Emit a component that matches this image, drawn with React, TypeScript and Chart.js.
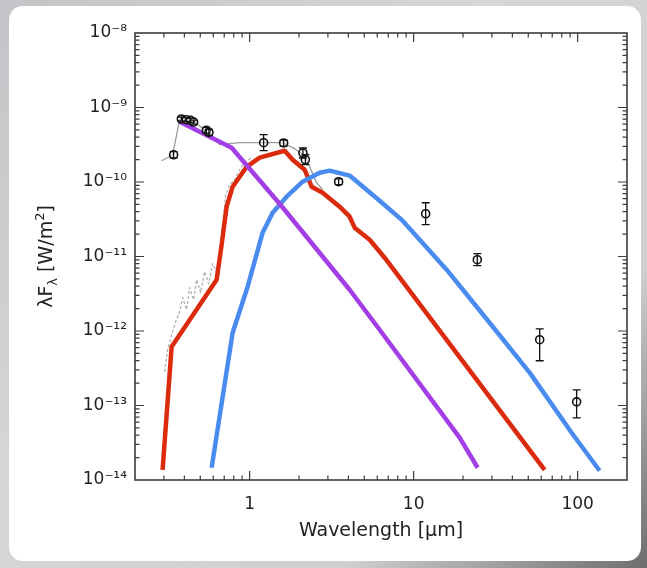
import React, { useEffect, useRef } from 'react';
import { Chart, registerables } from 'chart.js';

Chart.register(...registerables);

const FONT = "'DejaVu Sans', 'Noto Sans', sans-serif";

// Axis ticks
const xMajor = [1, 10, 100];
const xTickLabels = ['1', '10', '100'];
const yMajor = [1e-14, 1e-13, 1e-12, 1e-11, 1e-10, 1e-9, 1e-8];
const yTickLabels = ['10⁻¹⁴', '10⁻¹³', '10⁻¹²', '10⁻¹¹', '10⁻¹⁰', '10⁻⁹', '10⁻⁸'];

// Red model component
const redX = [0.2946, 0.3345, 0.6292, 0.6749, 0.724, 0.7877, 0.9587, 1.151, 1.635, 1.829, 2.165, 2.388, 2.787, 3.538, 4.072, 4.368, 5.393, 6.656, 62.9];
const redY = [1.37e-14, 6.15e-13, 4.89e-12, 1.44e-11, 4.66e-11, 8.65e-11, 1.6e-10, 2.12e-10, 2.63e-10, 1.99e-10, 1.46e-10, 8.65e-11, 7.18e-11, 4.66e-11, 3.42e-11, 2.44e-11, 1.68e-11, 9.64e-12, 1.37e-14];

// Blue model component
const blueX = [0.5866, 0.7877, 0.9723, 1.2, 1.381, 1.681, 2.105, 2.672, 3.075, 4.072, 6.204, 8.569, 15.89, 29.06, 50.97, 91.91, 136.2];
const blueY = [1.46e-14, 9.48e-13, 3.93e-12, 2.09e-11, 3.87e-11, 6.35e-11, 1.01e-10, 1.33e-10, 1.42e-10, 1.22e-10, 5.61e-11, 3.03e-11, 6.65e-12, 1.29e-12, 2.76e-13, 4.31e-14, 1.33e-14];

// Purple (stellar) component
const purpleX = [0.3742, 0.7767, 1.524, 4.072, 6.204, 19.08, 24.56];
const purpleY = [6.45e-10, 2.89e-10, 5.11e-11, 3.58e-12, 1.04e-12, 3.7e-14, 1.46e-14];

// Grey solid (total model)
const greyX = [0.2906, 0.3392, 0.3742, 0.4621, 0.5468, 0.5948, 0.6563, 0.8689, 1.217, 1.589, 1.829, 2.135, 2.322, 2.562, 2.787];
const greyY = [1.93e-10, 2.32e-10, 6.86e-10, 6.45e-10, 4.73e-10, 4.06e-10, 3.17e-10, 3.37e-10, 3.37e-10, 3.37e-10, 2.89e-10, 2.32e-10, 1.6e-10, 9.79e-11, 7.88e-11];

// Grey dashed (spectrum)
const specX = [0.3032, 0.3162, 0.3345, 0.3539, 0.3742, 0.3904, 0.4129, 0.4307, 0.4556, 0.475, 0.5025, 0.5316, 0.5623, 0.5948, 0.6382, 0.6655, 0.6943, 0.714, 0.7553, 0.81, 0.8689, 0.9322, 1.028];
const specY = [2.84e-13, 5.61e-13, 8.92e-13, 1.33e-12, 1.82e-12, 2.8e-12, 1.93e-12, 3.81e-12, 2.63e-12, 4.89e-12, 3.27e-12, 6.25e-12, 4.31e-12, 8.0e-12, 5.88e-12, 1.31e-11, 3.64e-11, 6.76e-11, 9.2e-11, 1.07e-10, 1.46e-10, 1.82e-10, 2.12e-10];

// Photometry with error bars
const photX = [0.344, 0.3833, 0.4111, 0.4367, 0.4556, 0.5445, 0.5647, 1.217, 1.612, 2.113, 2.186, 3.489, 11.84, 24.45, 58.7, 98.6];
const photY = [2.32e-10, 7.01e-10, 6.86e-10, 6.71e-10, 6.38e-10, 4.93e-10, 4.63e-10, 3.37e-10, 3.34e-10, 2.45e-10, 1.99e-10, 1.01e-10, 3.75e-11, 9.06e-12, 7.64e-13, 1.12e-13];
const photHi = [2.55e-10, 7.45e-10, 7.3e-10, 7.14e-10, 6.79e-10, 5.4e-10, 5.07e-10, 4.32e-10, 3.66e-10, 2.86e-10, 2.32e-10, 1.1e-10, 5.27e-11, 1.09e-11, 1.07e-12, 1.62e-13];
const photLo = [2.11e-10, 6.59e-10, 6.45e-10, 6.31e-10, 6.0e-10, 4.5e-10, 4.23e-10, 2.63e-10, 3.04e-10, 2.1e-10, 1.71e-10, 9.2e-11, 2.67e-11, 7.52e-12, 3.99e-13, 6.83e-14];

const toPts = (xs: number[], ys: number[]) => xs.map((x, i) => ({ x, y: ys[i] }));

const framePlugin = {
  id: 'frameTicks',
  afterDatasetsDraw(chart: any) {
    const { ctx, chartArea: a, scales } = chart;
    const x = scales.x;
    const y = scales.y;
    ctx.save();
    // error bars
    ctx.strokeStyle = '#111';
    ctx.lineWidth = 1.3;
    ctx.beginPath();
    photX.forEach((vx, i) => {
      const px = x.getPixelForValue(vx);
      const hi = y.getPixelForValue(photHi[i]);
      const lo = y.getPixelForValue(photLo[i]);
      ctx.moveTo(px, hi);
      ctx.lineTo(px, lo);
      ctx.moveTo(px - 4, hi);
      ctx.lineTo(px + 4, hi);
      ctx.moveTo(px - 4, lo);
      ctx.lineTo(px + 4, lo);
    });
    ctx.stroke();

    // frame
    ctx.strokeStyle = '#3c3c3c';
    ctx.lineWidth = 1.6;
    ctx.strokeRect(a.left, a.top, a.right - a.left, a.bottom - a.top);
    ctx.lineWidth = 1.2;
    ctx.beginPath();
    for (let e = -1; e <= 2; e++) {
      for (let m = 1; m <= 9; m++) {
        const v = m * Math.pow(10, e);
        if (v < 0.2 - 1e-9 || v > 200 + 1e-9) continue;
        const px = x.getPixelForValue(v);
        if (px <= a.left + 1 || px >= a.right - 1) continue;
        const len = m === 1 ? 9 : 4.5;
        ctx.moveTo(px, a.bottom);
        ctx.lineTo(px, a.bottom - len);
        ctx.moveTo(px, a.top);
        ctx.lineTo(px, a.top + len);
      }
    }
    for (let e = -14; e <= -9; e++) {
      for (let m = 1; m <= 9; m++) {
        const v = m * Math.pow(10, e);
        const py = y.getPixelForValue(v);
        if (py <= a.top + 1 || py >= a.bottom - 1) continue;
        const len = m === 1 ? 9 : 4.5;
        ctx.moveTo(a.left, py);
        ctx.lineTo(a.left + len, py);
        ctx.moveTo(a.right, py);
        ctx.lineTo(a.right - len, py);
      }
    }
    ctx.stroke();
    ctx.restore();
  },
  afterDraw(chart: any) {
    const { ctx, chartArea: a } = chart;
    const segs = [
      { t: 'λF', s: 19, dy: 0 },
      { t: 'λ', s: 13, dy: 5 },
      { t: ' [W/m', s: 19, dy: 0 },
      { t: '2', s: 13, dy: -8 },
      { t: ']', s: 19, dy: 0 },
    ];
    ctx.save();
    ctx.translate(45, (a.top + a.bottom) / 2);
    ctx.rotate(-Math.PI / 2);
    ctx.fillStyle = '#222';
    ctx.textBaseline = 'alphabetic';
    let w = 0;
    segs.forEach((s) => {
      ctx.font = `${s.s}px ${FONT}`;
      w += ctx.measureText(s.t).width;
    });
    let cx = -w / 2;
    segs.forEach((s) => {
      ctx.font = `${s.s}px ${FONT}`;
      ctx.fillText(s.t, cx, 7 + s.dy);
      cx += ctx.measureText(s.t).width;
    });
    ctx.restore();
  },
};

export default function App() {
  const ref = useRef<HTMLCanvasElement | null>(null);

  useEffect(() => {
    document.body.style.margin = '0';
    const canvas = ref.current;
    if (!canvas) return;
    const line = (label: string, xs: number[], ys: number[], color: string, width: number, dash: number[] = []) => ({
      label,
      data: toPts(xs, ys),
      borderColor: color,
      borderWidth: width,
      borderDash: dash,
      pointRadius: 0,
      tension: 0,
      borderJoinStyle: 'round',
    });
    const chart = new Chart(canvas, {
      type: 'line',
      data: {
        datasets: [
          {
            type: 'scatter',
            label: 'Photometry',
            data: toPts(photX, photY),
            pointRadius: 4,
            pointBorderWidth: 1.6,
            pointBorderColor: '#111',
            pointBackgroundColor: 'rgba(255,255,255,0.35)',
            showLine: false,
          } as any,
          line('Stellar', purpleX, purpleY, '#a33ee6', 4.5),
          line('Cold', blueX, blueY, '#4a8bef', 4.5),
          line('Warm', redX, redY, '#dc2a0c', 4.5),
          line('Total', greyX, greyY, '#9a9a9a', 1.3),
          line('Spectrum', specX, specY, '#b0b0b0', 1.3, [3, 2]),
        ] as any,
      },
      options: {
        responsive: false,
        animation: false,
        layout: { padding: { left: 0, right: 20, top: 33, bottom: 0 } },
        plugins: {
          legend: { display: false },
          tooltip: { enabled: false },
          title: { display: false },
        },
        scales: {
          x: {
            type: 'logarithmic',
            min: 0.2,
            max: 200,
            position: 'bottom',
            grid: { display: false, drawTicks: false },
            border: { display: false },
            afterBuildTicks: (s: any) => {
              s.ticks = xMajor.map((v) => ({ value: v }));
            },
            afterFit: (s: any) => {
              s.height = 88;
            },
            ticks: {
              autoSkip: false,
              maxRotation: 0,
              padding: 14,
              color: '#222',
              font: { family: FONT, size: 17 },
              callback: (_v: any, i: number) => xTickLabels[i],
            },
            title: {
              display: true,
              text: 'Wavelength [μm]',
              color: '#222',
              font: { family: FONT, size: 19 },
              padding: { top: 0, bottom: 26 },
            },
          },
          y: {
            type: 'logarithmic',
            min: 1e-14,
            max: 1e-8,
            position: 'left',
            grid: { display: false, drawTicks: false },
            border: { display: false },
            afterBuildTicks: (s: any) => {
              s.ticks = yMajor.map((v) => ({ value: v }));
            },
            afterFit: (s: any) => {
              s.width = 135;
            },
            ticks: {
              autoSkip: false,
              padding: 8,
              color: '#222',
              font: { family: FONT, size: 17 },
              callback: (_v: any, i: number) => yTickLabels[i],
            },
          },
        },
      } as any,
      plugins: [framePlugin],
    });
    return () => chart.destroy();
  }, []);

  return (
    <div
      style={{
        position: 'fixed',
        left: 0,
        top: 0,
        width: 647,
        height: 568,
        overflow: 'hidden',
        background: 'linear-gradient(135deg, #c4c4c8 0%, #d6d6d6 40%, #cfcfcf 75%, #6e6e6e 100%)',
      }}
    >
      <div
        style={{
          position: 'absolute',
          left: 9,
          top: 6,
          width: 632,
          height: 555,
          borderRadius: 14,
          background: '#ffffff',
        }}
      />
      <canvas
        ref={ref}
        width={647}
        height={568}
        style={{ position: 'absolute', left: 0, top: 0, width: 647, height: 568 }}
      />
    </div>
  );
}
